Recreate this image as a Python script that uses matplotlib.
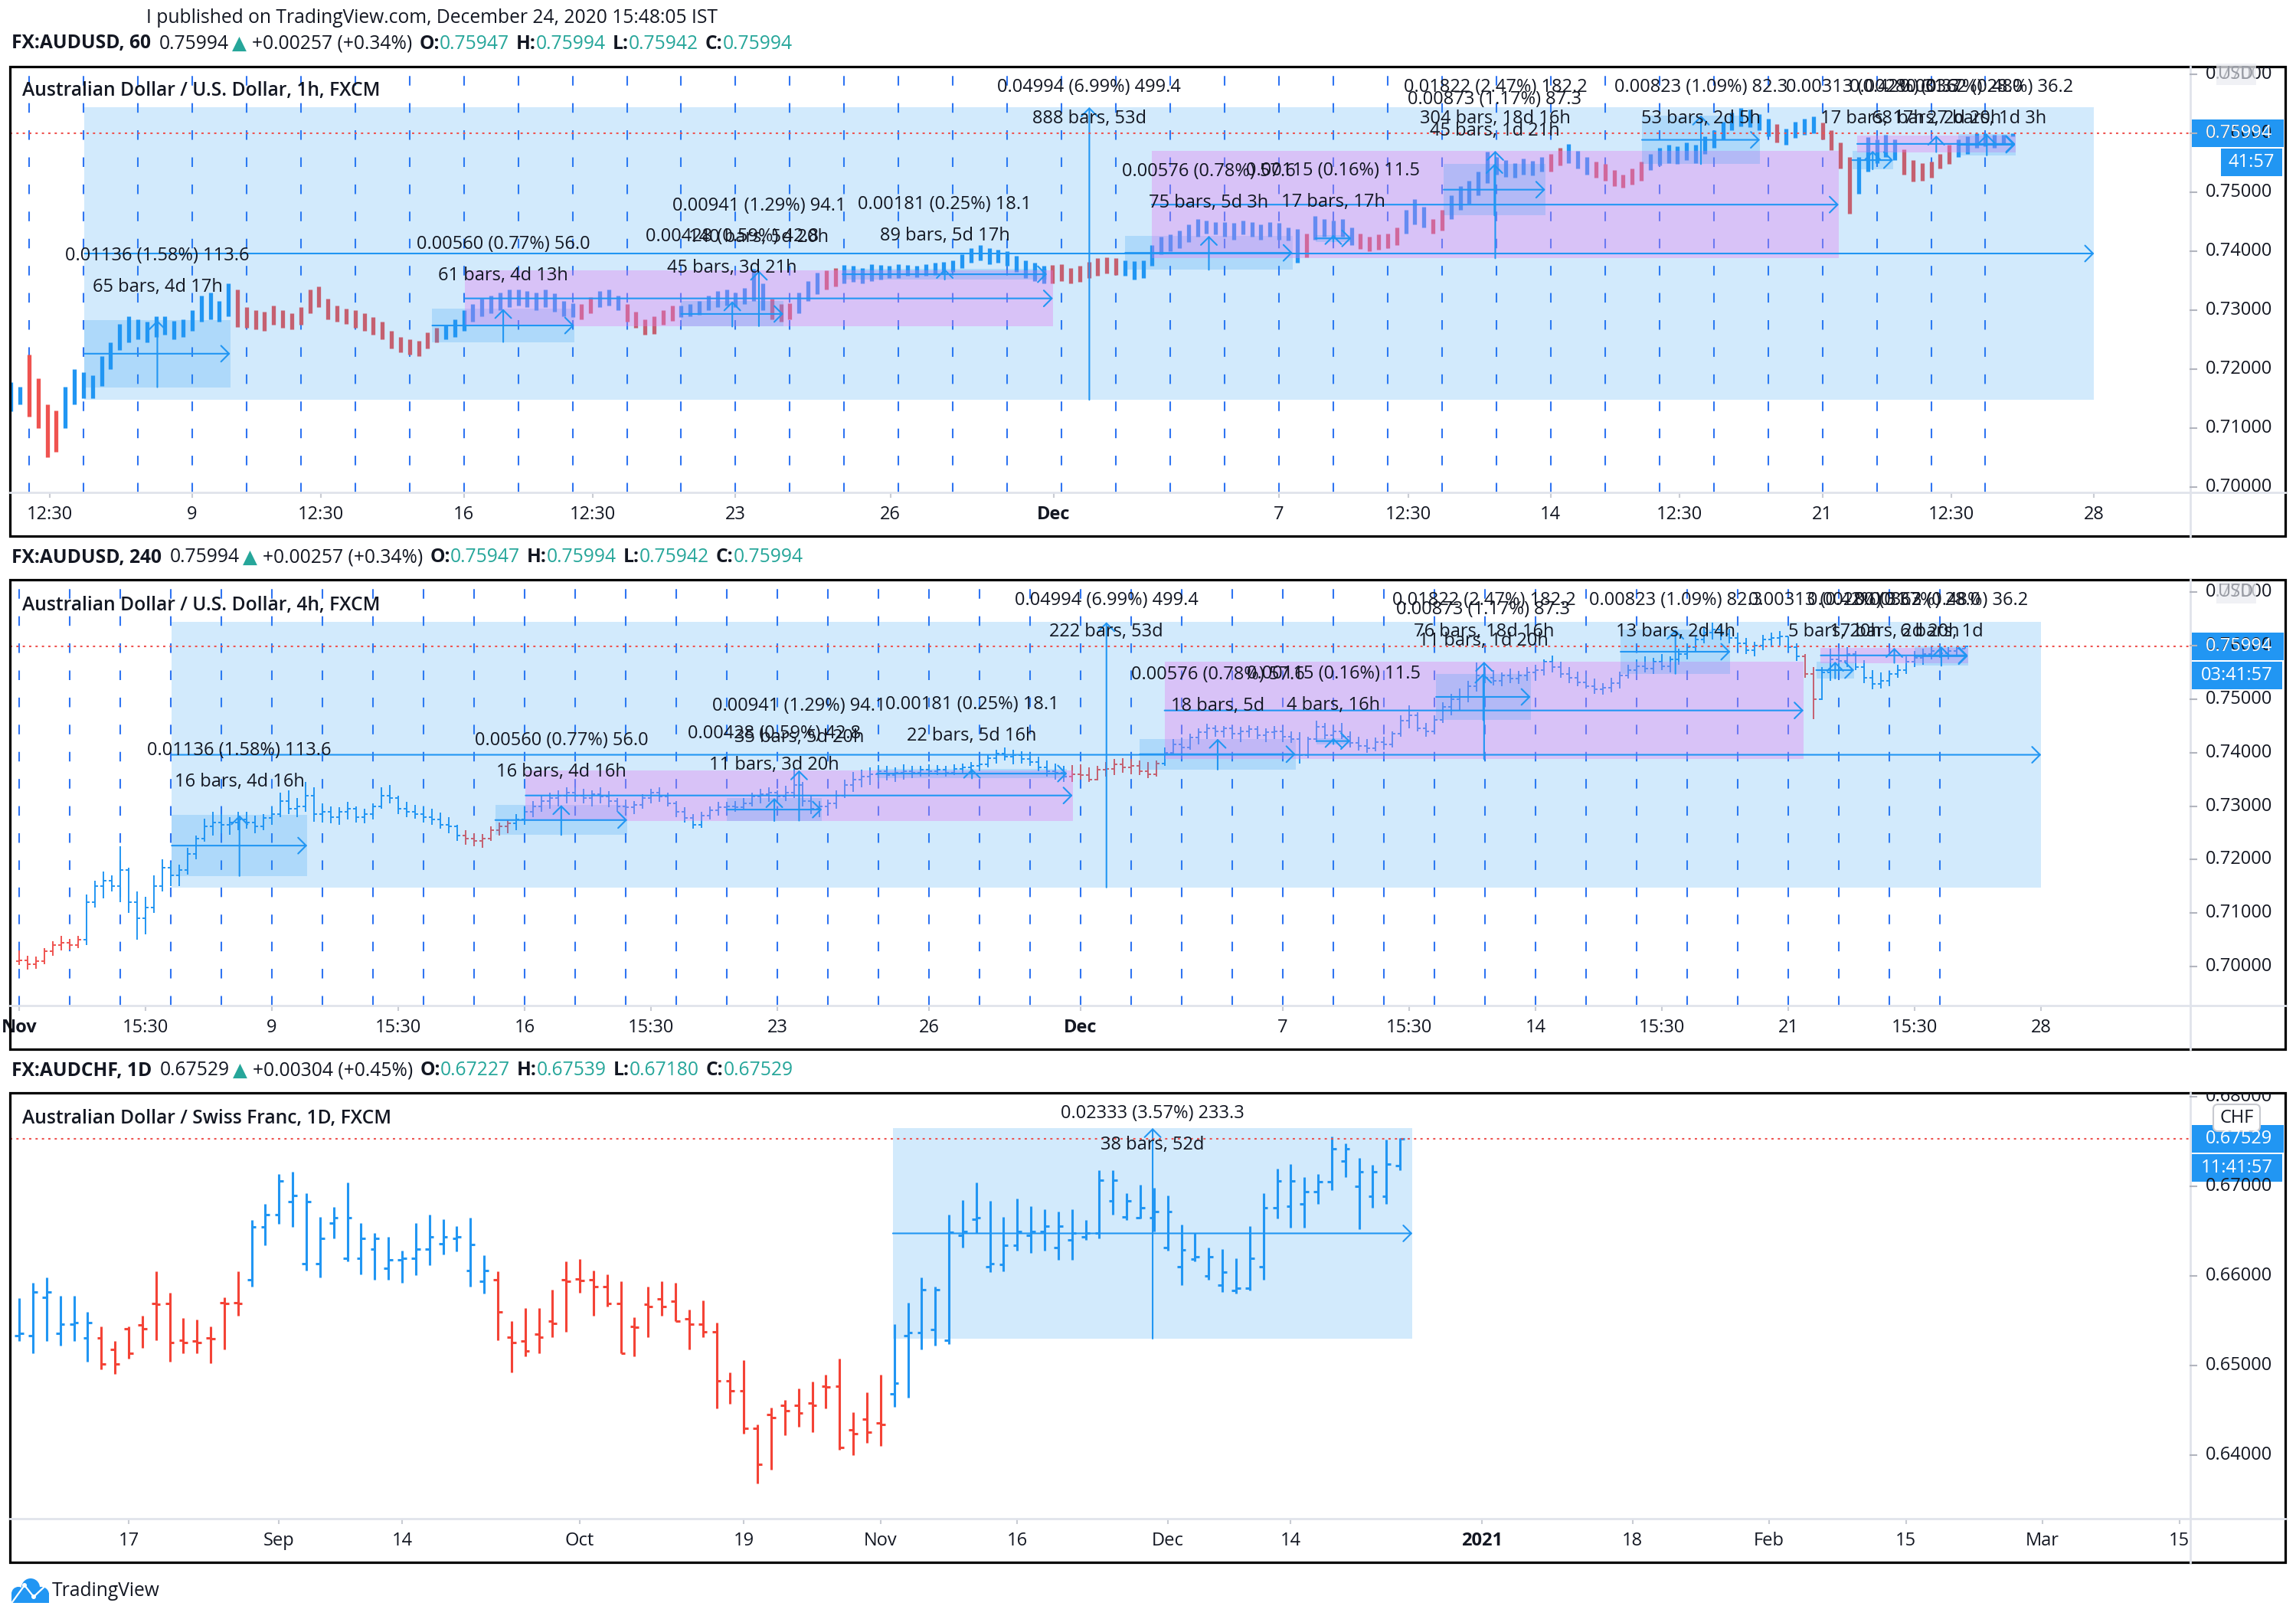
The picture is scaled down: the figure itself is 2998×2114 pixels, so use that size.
import numpy as np
import matplotlib
matplotlib.use("Agg")
import matplotlib.pyplot as plt
from matplotlib.patches import Rectangle, FancyBboxPatch, Circle
from matplotlib.transforms import Bbox

plt.rcParams['font.family'] = ['Open Sans', 'DejaVu Sans']

# ---------------- data ----------------
# AUDUSD 4h bars, k = trading days since Mon Nov 2 2020 (6 bars a day), in pips
hi4_pips = [
    7030, 7020, 7018, 7035, 7048, 7057,
    7052, 7058, 7135, 7160, 7178, 7170,
    7225, 7185, 7140, 7130, 7170, 7200,
    7195, 7190, 7222, 7245, 7276, 7290,
    7285, 7280, 7289, 7290, 7282, 7285,
    7300, 7325, 7330, 7315, 7345, 7335,
    7305, 7300, 7298, 7308, 7300, 7295,
    7305, 7335, 7340, 7320, 7308, 7302,
    7300, 7295, 7288, 7280, 7265, 7255,
    7250, 7248, 7262, 7270, 7275, 7285,
    7300, 7310, 7320, 7325, 7330, 7335,
    7335, 7332, 7330, 7335, 7328, 7315,
    7312, 7310, 7322, 7332, 7335, 7325,
    7310, 7298, 7285, 7290, 7300, 7308,
    7308, 7310, 7315, 7325, 7332, 7335,
    7330, 7338, 7370, 7345, 7320, 7310,
    7312, 7330, 7350, 7364, 7368, 7372,
    7377, 7375, 7372, 7378, 7376, 7375,
    7378, 7377, 7375, 7378, 7380, 7382,
    7385, 7395, 7405, 7410, 7405, 7402,
    7400, 7392, 7385, 7380, 7375, 7377,
    7378, 7372, 7375, 7382, 7388, 7390,
    7388, 7385, 7383, 7385, 7410, 7425,
    7428, 7435, 7445, 7454, 7452, 7450,
    7450, 7448, 7452, 7450, 7445, 7450,
    7448, 7440, 7438, 7430, 7460, 7455,
    7452, 7455, 7440, 7430, 7425, 7428,
    7430, 7440, 7470, 7488, 7475, 7455,
    7470, 7495, 7510, 7520, 7535, 7569,
    7560, 7555, 7550, 7557, 7553, 7560,
    7565, 7575, 7582, 7570, 7560, 7552,
    7548, 7538, 7530, 7540, 7552, 7565,
    7575, 7580, 7578, 7585, 7580, 7595,
    7605, 7620, 7635, 7643, 7640, 7632,
    7625, 7615, 7608, 7620, 7625, 7628,
    7618, 7605, 7585, 7560, 7560, 7594,
    7590, 7597, 7590, 7573, 7555, 7550,
    7552, 7565, 7580, 7590, 7595, 7600,
    7600, 7598, 7598, 7599.4,
]
lo4_pips = [
    7003, 6995, 6996, 7005, 7020, 7030,
    7032, 7035, 7040, 7110, 7128, 7140,
    7120, 7100, 7050, 7060, 7100, 7140,
    7150, 7150, 7172, 7200, 7233, 7245,
    7250, 7246, 7255, 7258, 7250, 7255,
    7265, 7280, 7285, 7280, 7290, 7271,
    7270, 7268, 7265, 7275, 7270, 7268,
    7275, 7295, 7305, 7285, 7280, 7277,
    7270, 7265, 7258, 7250, 7235, 7228,
    7225, 7222, 7235, 7245, 7250, 7255,
    7265, 7280, 7290, 7295, 7300, 7305,
    7308, 7305, 7300, 7305, 7298, 7290,
    7288, 7285, 7295, 7305, 7308, 7300,
    7280, 7270, 7258, 7260, 7275, 7282,
    7288, 7290, 7292, 7300, 7305, 7308,
    7305, 7310, 7315, 7300, 7285, 7280,
    7285, 7295, 7315, 7327, 7335, 7340,
    7345, 7348, 7345, 7350, 7352, 7355,
    7355, 7358, 7356, 7358, 7360, 7362,
    7365, 7372, 7380, 7385, 7378, 7380,
    7375, 7365, 7355, 7350, 7345, 7345,
    7350, 7345, 7348, 7355, 7358, 7362,
    7360, 7358, 7352, 7355, 7375, 7395,
    7400, 7405, 7415, 7425, 7430, 7428,
    7425, 7420, 7428, 7425, 7420, 7425,
    7420, 7418, 7380, 7390, 7420, 7425,
    7422, 7425, 7410, 7404, 7400, 7402,
    7405, 7410, 7430, 7445, 7440, 7430,
    7435, 7455, 7470, 7480, 7495, 7515,
    7530, 7526, 7525, 7530, 7528, 7535,
    7535, 7545, 7550, 7540, 7530, 7525,
    7520, 7510, 7508, 7513, 7520, 7538,
    7545, 7550, 7548, 7555, 7550, 7565,
    7575, 7590, 7605, 7612, 7610, 7605,
    7595, 7585, 7580, 7592, 7598, 7600,
    7590, 7572, 7540, 7463, 7498, 7535,
    7550, 7560, 7555, 7530, 7518, 7520,
    7525, 7540, 7548, 7560, 7565, 7575,
    7578, 7575, 7580, 7594.2,
]
cl4_pips = [
    7012, 7004, 7010, 7028, 7040, 7045,
    7040, 7050, 7120, 7150, 7160, 7150,
    7180, 7120, 7090, 7110, 7150, 7185,
    7170, 7180, 7210, 7240, 7262, 7270,
    7265, 7270, 7275, 7270, 7262, 7278,
    7285, 7310, 7295, 7300, 7320, 7285,
    7290, 7280, 7290, 7295, 7280, 7285,
    7300, 7320, 7315, 7295, 7290, 7285,
    7280, 7275, 7265, 7262, 7245, 7240,
    7235, 7240, 7255, 7262, 7268, 7275,
    7290, 7300, 7310, 7315, 7320, 7325,
    7320, 7315, 7322, 7318, 7310, 7300,
    7298, 7302, 7315, 7325, 7318, 7305,
    7290, 7278, 7265, 7282, 7292, 7298,
    7300, 7298, 7305, 7318, 7322, 7325,
    7318, 7325, 7340, 7310, 7295, 7300,
    7305, 7320, 7340, 7350, 7355, 7360,
    7365, 7358, 7362, 7366, 7362, 7368,
    7365, 7368, 7362, 7370, 7372, 7375,
    7378, 7390, 7398, 7392, 7395, 7388,
    7382, 7372, 7365, 7362, 7355, 7360,
    7358, 7350, 7368, 7370, 7378, 7372,
    7375, 7365, 7360, 7380, 7400, 7415,
    7410, 7428, 7438, 7445, 7440, 7445,
    7435, 7440, 7444, 7432, 7438, 7440,
    7430, 7425, 7395, 7425, 7448, 7432,
    7440, 7430, 7418, 7412, 7408, 7420,
    7415, 7435, 7460, 7470, 7445, 7440,
    7462, 7485, 7500, 7505, 7525, 7545,
    7540, 7535, 7545, 7538, 7545, 7550,
    7555, 7570, 7560, 7548, 7540, 7532,
    7525, 7518, 7522, 7530, 7545, 7555,
    7562, 7558, 7570, 7562, 7575, 7585,
    7598, 7612, 7625, 7630, 7622, 7615,
    7605, 7592, 7600, 7612, 7615, 7618,
    7598, 7580, 7548, 7500, 7550, 7575,
    7572, 7585, 7560, 7540, 7528, 7535,
    7548, 7555, 7570, 7578, 7585, 7590,
    7586, 7590, 7594, 7599.4,
]
first_open4_pips = 7010

# stretches that the chart paints red (in k units)
red_1h = [(1.95, 2.65), (5.7, 9.55), (12.1, 12.35), (13.0, 13.9), (15.56, 16.1),
          (16.6, 16.9), (20.8, 22.0), (25.4, 25.6), (26.4, 27.25), (27.7, 28.05),
          (30.0, 30.3), (30.7, 31.7), (34.05, 34.3), (35.0, 35.65), (36.4, 37.36)]
red_4h = [(0.0, 1.25), (8.7, 9.7), (20.8, 22.6), (35.3, 35.55)]

# AUDCHF daily bars, day index 0 = Mon Aug 17 2020
day_first, day_last = -8, 93
d_open = [0.6533, 0.6533, 0.6576, 0.6536, 0.6546, 0.6531, 0.6531, 0.6518, 0.6541, 0.6545,
          0.6569, 0.6569, 0.6528, 0.6527, 0.6531, 0.6570, 0.6570, 0.6596, 0.6655, 0.6668,
          0.6683, 0.6614, 0.6614, 0.6659, 0.6620, 0.6620, 0.6630, 0.6609, 0.6618, 0.6620,
          0.6630, 0.6636, 0.6642, 0.6606, 0.6594, 0.6596, 0.6532, 0.6527, 0.6535, 0.6550,
          0.6596, 0.6597, 0.6596, 0.6588, 0.6569, 0.6544, 0.6568, 0.6574, 0.6572, 0.6552,
          0.6546, 0.6538, 0.6483, 0.6472, 0.6430, 0.6445, 0.6456, 0.6456, 0.6458, 0.6477,
          0.6477, 0.6428, 0.6440, 0.6436, 0.6468, 0.6533, 0.6537, 0.6540, 0.6528, 0.6645,
          0.6663, 0.6610, 0.6613, 0.6634, 0.6645, 0.6650, 0.6632, 0.6640, 0.6644, 0.6648,
          0.6684, 0.6666, 0.6665, 0.6665, 0.6632, 0.6610, 0.6619, 0.6600, 0.6590, 0.6584,
          0.6586, 0.6610, 0.6676, 0.6678, 0.6680, 0.6694, 0.6705, 0.6728, 0.6700, 0.6689,
          0.6689, 0.67227]
d_high = [0.6575, 0.6592, 0.6598, 0.6578, 0.6578, 0.6560, 0.6544, 0.6527, 0.6544, 0.6556,
          0.6605, 0.6581, 0.6553, 0.6551, 0.6544, 0.6576, 0.6605, 0.6662, 0.6680, 0.6714,
          0.6716, 0.6692, 0.6666, 0.6677, 0.6704, 0.6659, 0.6648, 0.6644, 0.6628, 0.6659,
          0.6668, 0.6663, 0.6656, 0.6665, 0.6623, 0.6605, 0.6550, 0.6564, 0.6564, 0.6585,
          0.6616, 0.6619, 0.6606, 0.6602, 0.6594, 0.6554, 0.6588, 0.6594, 0.6592, 0.6562,
          0.6573, 0.6548, 0.6492, 0.6506, 0.6434, 0.6453, 0.6462, 0.6474, 0.6482, 0.6490,
          0.6508, 0.6448, 0.6470, 0.6490, 0.6546, 0.6570, 0.6598, 0.6588, 0.6668, 0.6685,
          0.6704, 0.6684, 0.6666, 0.6686, 0.6678, 0.6674, 0.6672, 0.6674, 0.6662, 0.6718,
          0.6718, 0.6692, 0.6702, 0.6698, 0.6690, 0.6657, 0.6648, 0.6632, 0.6630, 0.6620,
          0.6656, 0.6692, 0.6720, 0.6725, 0.6710, 0.6714, 0.6756, 0.6748, 0.6732, 0.6724,
          0.6752, 0.67539]
d_low = [0.6527, 0.6514, 0.6527, 0.6522, 0.6527, 0.6504, 0.6496, 0.6491, 0.6508, 0.6520,
         0.6528, 0.6504, 0.6514, 0.6514, 0.6503, 0.6518, 0.6556, 0.6588, 0.6634, 0.6658,
         0.6655, 0.6606, 0.6598, 0.6642, 0.6616, 0.6602, 0.6596, 0.6596, 0.6592, 0.6601,
         0.6612, 0.6624, 0.6627, 0.6588, 0.6580, 0.6528, 0.6492, 0.6510, 0.6514, 0.6532,
         0.6538, 0.6581, 0.6556, 0.6566, 0.6514, 0.6510, 0.6532, 0.6556, 0.6550, 0.6518,
         0.6532, 0.6452, 0.6457, 0.6424, 0.6368, 0.6384, 0.6422, 0.6432, 0.6426, 0.6452,
         0.6406, 0.6400, 0.6414, 0.6410, 0.6454, 0.6464, 0.6518, 0.6522, 0.6524, 0.6632,
         0.6648, 0.6604, 0.6605, 0.6628, 0.6626, 0.6628, 0.6618, 0.6618, 0.6640, 0.6642,
         0.6668, 0.6662, 0.6664, 0.6650, 0.6628, 0.6590, 0.6616, 0.6596, 0.6582, 0.6580,
         0.6584, 0.6596, 0.6664, 0.6654, 0.6654, 0.6680, 0.6696, 0.6710, 0.6652, 0.6676,
         0.6680, 0.67180]
d_close = [0.6536, 0.6582, 0.6582, 0.6546, 0.6548, 0.6548, 0.6502, 0.6502, 0.6514, 0.6541,
           0.6568, 0.6526, 0.6526, 0.6526, 0.6530, 0.6569, 0.6569, 0.6655, 0.6668, 0.6706,
           0.6690, 0.6683, 0.6642, 0.6665, 0.6665, 0.6642, 0.6642, 0.6618, 0.6620, 0.6630,
           0.6644, 0.6644, 0.6644, 0.6635, 0.6606, 0.6560, 0.6526, 0.6516, 0.6532, 0.6547,
           0.6594, 0.6595, 0.6588, 0.6569, 0.6514, 0.6543, 0.6566, 0.6566, 0.6550, 0.6546,
           0.6538, 0.6483, 0.6472, 0.6430, 0.6390, 0.6442, 0.6450, 0.6447, 0.6456, 0.6476,
           0.6409, 0.6424, 0.6426, 0.6434, 0.6480, 0.6537, 0.6585, 0.6585, 0.6649, 0.6650,
           0.6665, 0.6614, 0.6634, 0.6650, 0.6650, 0.6656, 0.6656, 0.6648, 0.6648, 0.6707,
           0.6707, 0.6684, 0.6676, 0.6672, 0.6672, 0.6629, 0.6621, 0.6621, 0.6604, 0.6586,
           0.6620, 0.6676, 0.6706, 0.6706, 0.6694, 0.6705, 0.6742, 0.6742, 0.6716, 0.6716,
           0.6725, 0.67529]
red_days = [(-2, 8), (27, 55)]

# date & price range drawings (shared by the 1h and 4h AUDUSD charts)
rng_k0 = [3.02, 3.02, 9.42, 10.02, 14.0, 16.97, 22.17, 22.66, 28.03, 25.67, 31.68, 35.55, 35.64, 37.5]
rng_k1 = [40.0, 5.70, 12.03, 20.84, 15.88, 20.73, 25.25, 35.3, 29.9, 26.33, 33.85, 36.3, 38.55, 38.55]
rng_lo = [0.7148, 0.71694, 0.7246, 0.72729, 0.72722, 0.73519, 0.73684, 0.73879, 0.74607,
          0.7416, 0.75477, 0.75388, 0.7568, 0.75625]
rng_hi = [0.76442, 0.7283, 0.7302, 0.7367, 0.7315, 0.737, 0.7426, 0.75701, 0.7548,
          0.74275, 0.763, 0.75701, 0.7596, 0.75987]
rng_purple = [False, False, False, True, False, False, False, True, False, False, False, False, True, False]
rng_move = ["0.04994 (6.99%) 499.4", "0.01136 (1.58%) 113.6", "0.00560 (0.77%) 56.0",
            "0.00941 (1.29%) 94.1", "0.00428 (0.59%) 42.8", "0.00181 (0.25%) 18.1",
            "0.00576 (0.78%) 57.6", "0.01822 (2.47%) 182.2", "0.00873 (1.17%) 87.3",
            "0.00115 (0.16%) 11.5", "0.00823 (1.09%) 82.3", "0.00313 (0.42%) 31.3",
            "0.00280 (0.37%) 28.0", "0.00362 (0.48%) 36.2"]
rng_bars_1h = ["888 bars, 53d", "65 bars, 4d 17h", "61 bars, 4d 13h", "140 bars, 5d 20h",
               "45 bars, 3d 21h", "89 bars, 5d 17h", "75 bars, 5d 3h", "304 bars, 18d 16h",
               "45 bars, 1d 21h", "17 bars, 17h", "53 bars, 2d 5h", "17 bars, 17h",
               "68 bars, 2d 20h", "27 bars, 1d 3h"]
rng_bars_4h = ["222 bars, 53d", "16 bars, 4d 16h", "16 bars, 4d 16h", "35 bars, 5d 20h",
               "11 bars, 3d 20h", "22 bars, 5d 16h", "18 bars, 5d", "76 bars, 18d 16h",
               "11 bars, 1d 20h", "4 bars, 16h", "13 bars, 2d 4h", "5 bars, 20h",
               "17 bars, 2d 20h", "6 bars, 1d"]
chf_rng = (55.9, 93.9, 0.6530, 0.6765)
chf_move, chf_bars = "0.02333 (3.57%) 233.3", "38 bars, 52d"

# axis ticks
t1_k = [2.375, 5, 7.375, 10, 12.375, 15, 17.85, 20.85, 25, 27.375, 30, 32.375, 35, 37.375, 40]
t1_lab = ['12:30', '9', '12:30', '16', '12:30', '23', '26', 'Dec', '7', '12:30', '14', '12:30', '21', '12:30', '28']
t2_k = [0, 2.5, 5, 7.5, 10, 12.5, 15, 18, 21, 25, 27.5, 30, 32.5, 35, 37.5, 40]
t2_lab = ['Nov', '15:30', '9', '15:30', '16', '15:30', '23', '26', 'Dec', '7', '15:30', '14', '15:30', '21', '15:30', '28']
t3_i = [0, 11, 20, 33, 45, 55, 65, 76, 85, 99, 110, 120, 130, 140, 150]
t3_lab = ['17', 'Sep', '14', 'Oct', '19', 'Nov', '16', 'Dec', '14', '2021', '18', 'Feb', '15', 'Mar', '15']
usd_ticks = [0.70, 0.71, 0.72, 0.73, 0.74, 0.75, 0.76, 0.77]
chf_ticks = [0.64, 0.65, 0.66, 0.67, 0.68]
last_usd, last_chf = 0.75994, 0.67529

hdr_usd60 = ["FX:AUDUSD, 60", "0.75994", "+0.00257 (+0.34%)", "0.75947", "0.75994", "0.75942", "0.75994"]
hdr_usd240 = ["FX:AUDUSD, 240", "0.75994", "+0.00257 (+0.34%)", "0.75947", "0.75994", "0.75942", "0.75994"]
hdr_chf = ["FX:AUDCHF, 1D", "0.67529", "+0.00304 (+0.45%)", "0.67227", "0.67539", "0.67180", "0.67529"]

# ---------------- drawing ----------------
W, H = 2998, 2114
DARK = '#131722'
BLUE = '#2196f3'
RED = '#ef5350'
RED_D = '#f44336'
TEAL = '#26a69a'
DASH = '#2f74f2'
AXIS = '#e0e3eb'
FILL_B = (33 / 255, 150 / 255, 243 / 255, 0.2)
FILL_P = (230 / 255, 120 / 255, 240 / 255, 0.35)
FS = 17      # chart texts
FS_H = 17.7  # title / header lines
PLOT_L, PLOT_R, FRAME_R = 13, 2860, 2984
panels = [(87, 643, 700), (757, 1313, 1370), (1427, 1983, 2040)]

fig = plt.figure(figsize=(W / 100, H / 100), dpi=100, facecolor='white')
ui = fig.add_axes([0, 0, 1, 1], zorder=10)
ui.set_xlim(0, W)
ui.set_ylim(H, 0)
ui.axis('off')
ui.patch.set_alpha(0)


def make_ax(top, axis_y):
    ax = fig.add_axes([PLOT_L / W, 1 - axis_y / H, (PLOT_R - PLOT_L) / W, (axis_y - top) / H], zorder=1)
    for s in ax.spines.values():
        s.set_visible(False)
    ax.tick_params(axis='y', left=False, labelleft=False)
    ax.tick_params(axis='x', length=5, width=1.5, color='#c9ccd3', pad=7, labelsize=FS, labelcolor=DARK)
    return ax


def to_px(ax, x, y):
    dx, dy = ax.transData.transform((x, y))
    return dx, H - dy


def colours(xs, spans, c_in, c_out):
    return [c_in if any(a <= x <= b for a, b in spans) else c_out for x in xs]


def range_tool(ax, k0, k1, lo, hi, purple, line1, line2, top_px):
    ax.add_patch(Rectangle((k0, lo), k1 - k0, hi - lo, fc=FILL_P if purple else FILL_B, ec='none', zorder=3))
    kc, pc = (k0 + k1) / 2, (lo + hi) / 2
    ap = dict(arrowstyle='->,head_length=0.75,head_width=0.75', color=BLUE, lw=1.5,
              shrinkA=0, shrinkB=0, mutation_scale=10)
    ax.annotate('', xy=(k1, pc), xytext=(k0, pc), arrowprops=ap, zorder=4)
    ax.annotate('', xy=(kc, hi), xytext=(kc, lo), arrowprops=ap, zorder=4)
    xc, yt = to_px(ax, kc, hi)
    y1 = max(yt - 84, top_px + 27)
    ui.text(xc, y1, line1, ha='center', va='center', fontsize=FS, color=DARK)
    ui.text(xc, y1 + 41, line2, ha='center', va='center', fontsize=FS, color=DARK)


def frame(top, axis_y, bot):
    ui.add_patch(Rectangle((PLOT_L, top), FRAME_R - PLOT_L, bot - top, fill=False, ec='black', lw=2.3))
    ui.plot([PLOT_L, FRAME_R], [axis_y, axis_y], color=AXIS, lw=2)
    ui.plot([PLOT_R, PLOT_R], [top, bot], color=AXIS, lw=2)


def price_axis(ax, ticks, top, bot):
    clip = Bbox.from_extents(PLOT_R, H - bot, FRAME_R, H - top)
    for v in ticks:
        _, y = to_px(ax, ax.get_xlim()[0], v)
        t = ui.text(2924, y, f'{v:.5f}', ha='center', va='center', fontsize=FS, color=DARK)
        t.set_clip_box(clip)
        t.set_clip_on(True)
        if y > top + 3:
            ui.plot([PLOT_R, PLOT_R + 8], [y, y], color='#b2b5be', lw=1.5)


def price_tag(ax, value, timer, tx0):
    _, y = to_px(ax, ax.get_xlim()[0], value)
    ui.add_patch(Rectangle((2862, y - 18), 2982 - 2862, 36, fc=BLUE, ec='none'))
    ui.text(2924, y, f'{value:.5f}', ha='center', va='center', fontsize=FS, color='white')
    ui.add_patch(Rectangle((tx0, y + 20), 2980 - tx0, 36, fc=BLUE, ec='none'))
    ui.text((tx0 + 2980) / 2, y + 38, timer, ha='center', va='center', fontsize=FS, color='white')
    ax.axhline(value, color=RED, lw=1.5, dashes=(1.4, 2.6), zorder=5)


def header(y, vals):
    r = fig.canvas.get_renderer()
    parts = [(vals[0], DARK, 'bold', 11), (vals[1], DARK, 'normal', 4), ('▲', TEAL, 'normal', 7),
             (vals[2], DARK, 'normal', 9), ('O:', DARK, 'bold', 0), (vals[3], TEAL, 'normal', 9),
             ('H:', DARK, 'bold', 0), (vals[4], TEAL, 'normal', 9), ('L:', DARK, 'bold', 0),
             (vals[5], TEAL, 'normal', 9), ('C:', DARK, 'bold', 0), (vals[6], TEAL, 'normal', 0)]
    x = 15
    for s, c, w, gap in parts:
        t = ui.text(x, y, s, ha='left', va='center', fontsize=FS_H, color=c, fontweight=w)
        x += t.get_window_extent(r).width + gap


def xticks(ax, pos, labels, bold):
    ax.set_xticks(pos)
    ax.set_xticklabels(labels)
    for t in ax.get_xticklabels():
        if t.get_text() in bold:
            t.set_fontweight('bold')


hi4 = np.array(hi4_pips) / 1e4
lo4 = np.array(lo4_pips) / 1e4
cl4 = np.array(cl4_pips) / 1e4
op4 = np.r_[first_open4_pips / 1e4, cl4[:-1]]  # FX bars open where the previous one closed
k4 = np.arange(len(cl4)) / 6

# ---- panel 1 : AUDUSD 1h ----
ax1 = make_ax(87, 643)
ax1.set_xlim(1.648, 41.77)
ax1.set_ylim(0.69909, 0.77130)
for k in range(0, 39):
    ax1.axvline(k, color=DASH, lw=1.5, dashes=(6, 11), zorder=1)
ax1.vlines(k4, lo4, hi4, colors=colours(k4, red_1h, RED, BLUE), lw=3.8, zorder=2)
for i in range(len(rng_k0)):
    range_tool(ax1, rng_k0[i], rng_k1[i], rng_lo[i], rng_hi[i], rng_purple[i], rng_move[i], rng_bars_1h[i], 87)
xticks(ax1, t1_k, t1_lab, ['Dec'])

# ---- panel 2 : AUDUSD 4h ----
ax2 = make_ax(757, 1313)
ax2.set_xlim(-0.18, 42.95)
ax2.set_ylim(0.69270, 0.77235)
for k in range(0, 39):
    ax2.axvline(k, color=DASH, lw=1.5, dashes=(6, 11), zorder=1)
c2 = colours(k4, red_4h, RED, BLUE)
ax2.vlines(k4, lo4, hi4, colors=c2, lw=1.4, zorder=2)
ax2.hlines(op4, k4 - 0.06, k4, colors=c2, lw=1.4, zorder=2)
ax2.hlines(cl4, k4, k4 + 0.06, colors=c2, lw=1.4, zorder=2)
for i in range(len(rng_k0)):
    range_tool(ax2, rng_k0[i], rng_k1[i], rng_lo[i], rng_hi[i], rng_purple[i], rng_move[i], rng_bars_4h[i], 757)
xticks(ax2, t2_k, t2_lab, ['Nov', 'Dec'])

# ---- panel 3 : AUDCHF 1D ----
ax3 = make_ax(1427, 1983)
ax3.set_xlim(-8.68, 150.8)
ax3.set_ylim(0.63291, 0.68043)
di = np.arange(day_first, day_last + 1)
c3 = colours(di, red_days, RED_D, BLUE)
ax3.vlines(di, d_low, d_high, colors=c3, lw=2.2, zorder=2)
ax3.hlines(d_open, di - 0.32, di, colors=c3, lw=2.2, zorder=2)
ax3.hlines(d_close, di, di + 0.32, colors=c3, lw=2.2, zorder=2)
range_tool(ax3, chf_rng[0], chf_rng[1], chf_rng[2], chf_rng[3], False, chf_move, chf_bars, 1427)
xticks(ax3, t3_i, t3_lab, ['2021'])

# ---- chrome ----
for top, axy, bot in panels:
    frame(top, axy, bot)
price_axis(ax1, usd_ticks, 87, 643)
price_axis(ax2, usd_ticks, 757, 1313)
price_axis(ax3, chf_ticks, 1427, 1983)
price_tag(ax1, last_usd, '41:57', 2900)
price_tag(ax2, last_usd, '03:41:57', 2862)
price_tag(ax3, last_chf, '11:41:57', 2862)

for ax in (ax1, ax2):
    _, y = to_px(ax, 0, 0.77)
    ui.text(2920, y, 'USD', ha='center', va='center', fontsize=FS, color='#9598a1',
            bbox=dict(fc=(0.92, 0.93, 0.95, 0.75), ec='none', pad=1.5))
ui.add_patch(FancyBboxPatch((2890, 1442), 61, 35, boxstyle='round,pad=0,rounding_size=6',
                            fc='white', ec='#c8cad0', lw=1.5))
ui.text(2920.5, 1459.5, 'CHF', ha='center', va='center', fontsize=FS, color=DARK)

ui.text(564, 23, 'I published on TradingView.com, December 24, 2020 15:48:05 IST',
        ha='center', va='center', fontsize=FS_H, color=DARK)
header(57, hdr_usd60)
header(728, hdr_usd240)
header(1398, hdr_chf)
ui.text(29, 119, 'Australian Dollar / U.S. Dollar, 1h, FXCM', fontsize=FS_H, fontweight='semibold', color=DARK, va='center')
ui.text(29, 790, 'Australian Dollar / U.S. Dollar, 4h, FXCM', fontsize=FS_H, fontweight='semibold', color=DARK, va='center')
ui.text(29, 1461, 'Australian Dollar / Swiss Franc, 1D, FXCM', fontsize=FS_H, fontweight='semibold', color=DARK, va='center')

# TradingView logo
for cx, cy, r in [(40, 2073, 12), (24, 2081, 9), (54, 2082, 10)]:
    ui.add_patch(Circle((cx, cy), r, fc=BLUE, ec='none'))
ui.add_patch(Rectangle((15, 2080), 49, 13, fc=BLUE, ec='none'))
ui.plot([16, 32, 44, 62], [2092, 2070, 2085, 2068], color='white', lw=1.6)
ui.add_patch(Circle((32, 2070), 3, fc='white', ec='none'))
ui.add_patch(Circle((44, 2085), 3, fc='white', ec='none'))
ui.text(68, 2077, 'TradingView', fontsize=FS_H, color=DARK, va='center', ha='left')

fig.savefig('out.png', dpi=100, facecolor='white')
